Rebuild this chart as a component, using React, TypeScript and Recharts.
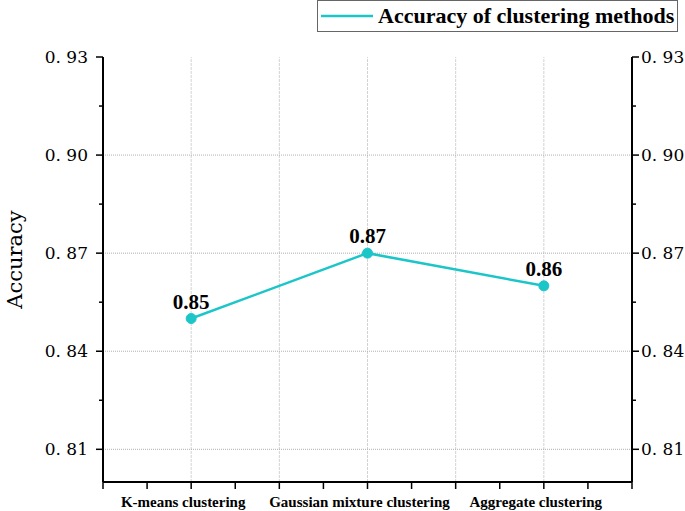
import React from "react";
import {
  LineChart,
  Line,
  XAxis,
  YAxis,
  ReferenceLine,
  LabelList,
  Legend,
} from "recharts";

const categories = [
  "K-means clustering",
  "Gaussian mixture clustering",
  "Aggregate clustering",
];
const accuracy = [0.85, 0.87, 0.86];

const yMajorTicks = [0.81, 0.84, 0.87, 0.9, 0.93];
const yMinorTicks = [0.825, 0.855, 0.885, 0.915];
const yGridValues = [0.81, 0.84, 0.87, 0.9];

const seriesName = "Accuracy of clustering methods";
const lineColor = "#1cc6c8";

const data = categories.map((name, i) => ({ x: i, name, accuracy: accuracy[i] }));

// half-category majors, quarter-category minors
const xTicks = Array.from({ length: categories.length * 4 + 1 }, (_, i) => -0.5 + i * 0.25);
const xGridValues = xTicks.filter((t) => t > -0.5 && t < categories.length - 0.5 && Math.abs(t * 2 - Math.round(t * 2)) < 1e-6);
const yTicks = [...yMajorTicks, ...yMinorTicks].sort((a, b) => a - b);

const isMajorY = (v: number) => yMajorTicks.some((t) => Math.abs(t - v) < 1e-6);
const fmtY = (v: number) => v.toFixed(2).replace(".", ". ");

const serif = "'Liberation Serif', 'Times New Roman', serif";
const tickFont = "'DejaVu Serif', serif";

const LeftTick = (props: any) => {
  const { x, y, payload } = props;
  const major = isMajorY(payload.value);
  const len = major ? 7 : 4;
  return (
    <g>
      <line x1={x} y1={y} x2={x - len} y2={y} stroke="#000" strokeWidth={1.5} />
      {major && (
        <text x={x - 15} y={y} dy="0.36em" textAnchor="end" fontFamily={tickFont} fontSize={17} fill="#000">
          {fmtY(payload.value)}
        </text>
      )}
    </g>
  );
};

const RightTick = (props: any) => {
  const { x, y, payload } = props;
  const major = isMajorY(payload.value);
  const len = major ? 7 : 4;
  return (
    <g>
      <line x1={x} y1={y} x2={x + len} y2={y} stroke="#000" strokeWidth={1.5} />
      {major && (
        <text x={x + 9} y={y} dy="0.36em" textAnchor="start" fontFamily={tickFont} fontSize={17} fill="#000">
          {fmtY(payload.value)}
        </text>
      )}
    </g>
  );
};

const BottomTick = (props: any) => {
  const { x, y, payload } = props;
  const v = payload.value as number;
  const isCat = Math.abs(v - Math.round(v)) < 1e-6 && v >= 0;
  return (
    <g>
      <line x1={x} y1={y} x2={x} y2={y + 7} stroke="#000" strokeWidth={1.5} />
      {isCat && (
        <text x={x - 8} y={y + 25} textAnchor="middle" fontFamily={serif} fontWeight="bold" fontSize={15} fill="#000">
          {categories[Math.round(v)]}
        </text>
      )}
    </g>
  );
};

const TopTick = (props: any) => {
  const { x, y } = props;
  return <line x1={x} y1={y} x2={x} y2={y + 5} stroke="#000" strokeWidth={1.5} />;
};

const LegendBox = () => (
  <div
    style={{
      border: "1px solid #666",
      height: 32,
      boxSizing: "border-box",
      display: "flex",
      alignItems: "center",
      paddingLeft: 3,
      background: "#fff",
    }}
  >
    <svg width={52} height={6} style={{ marginRight: 5 }}>
      <line x1={0} y1={3} x2={52} y2={3} stroke={lineColor} strokeWidth={2.5} />
    </svg>
    <span style={{ fontFamily: serif, fontWeight: "bold", fontSize: 22, color: "#000", whiteSpace: "nowrap" }}>
      {seriesName}
    </span>
  </div>
);

const YLabel = (props: any) => {
  const { viewBox } = props;
  const cy = viewBox.y + viewBox.height / 2 - 10;
  return (
    <text
      x={15}
      y={cy}
      transform={`rotate(-90, 15, ${cy})`}
      textAnchor="middle"
      dy="0.35em"
      fontFamily={tickFont}
      fontSize={21}
      fill="#000"
    >
      Accuracy
    </text>
  );
};

export default function App() {
  return (
    <div style={{ position: "absolute", left: 0, top: 0, background: "#fff" }}>
      <LineChart
        width={685}
        height={511}
        data={data}
        margin={{ top: 57, right: 0, bottom: 0, left: 0 }}
      >
        <XAxis
          dataKey="x"
          type="number"
          domain={[-0.5, categories.length - 0.5]}
          ticks={xTicks}
          interval={0}
          allowDataOverflow
          height={29}
          tickSize={0}
          tickMargin={0}
          tickLine={false}
          axisLine={{ stroke: "#000", strokeWidth: 2 }}
          tick={<BottomTick />}
        />
        <XAxis
          xAxisId="top"
          orientation="top"
          dataKey="x"
          type="number"
          domain={[-0.5, categories.length - 0.5]}
          ticks={xTicks}
          interval={0}
          allowDataOverflow
          height={0}
          tickSize={0}
          tickMargin={0}
          tickLine={false}
          axisLine={{ stroke: "#000", strokeWidth: 2 }}
          tick={<TopTick />}
        />
        <YAxis
          type="number"
          domain={[0.8, 0.93]}
          ticks={yTicks}
          interval={0}
          allowDataOverflow
          width={103}
          tickSize={0}
          tickMargin={0}
          tickLine={false}
          axisLine={{ stroke: "#000", strokeWidth: 2 }}
          tick={<LeftTick />}
          label={<YLabel />}
        />
        <YAxis
          yAxisId="right"
          orientation="right"
          type="number"
          domain={[0.8, 0.93]}
          ticks={yTicks}
          interval={0}
          allowDataOverflow
          width={53}
          tickSize={0}
          tickMargin={0}
          tickLine={false}
          axisLine={{ stroke: "#000", strokeWidth: 2 }}
          tick={<RightTick />}
        />
        {xGridValues.map((v) => (
          <ReferenceLine key={`vx${v}`} x={v} stroke="#d2d2d2" strokeDasharray="3 1" strokeWidth={1} />
        ))}
        {yGridValues.map((v) => (
          <ReferenceLine key={`hy${v}`} y={v} stroke="#b0b0b0" strokeDasharray="1 1" strokeWidth={1} />
        ))}
        <Legend
          layout="horizontal"
          verticalAlign="middle"
          align="center"
          wrapperStyle={{ top: 0, left: 317, width: 361 }}
          content={() => <LegendBox />}
        />
        <Line
          dataKey="accuracy"
          name={seriesName}
          stroke={lineColor}
          strokeWidth={2.5}
          dot={{ r: 5, fill: lineColor, stroke: lineColor, strokeWidth: 1 }}
          isAnimationActive={false}
        >
          <LabelList
            dataKey="accuracy"
            position="top"
            offset={10}
            formatter={(v: any) => Number(v).toFixed(2)}
            style={{ fontFamily: serif, fontWeight: "bold", fontSize: 21, fill: "#000" }}
          />
        </Line>
      </LineChart>
    </div>
  );
}
